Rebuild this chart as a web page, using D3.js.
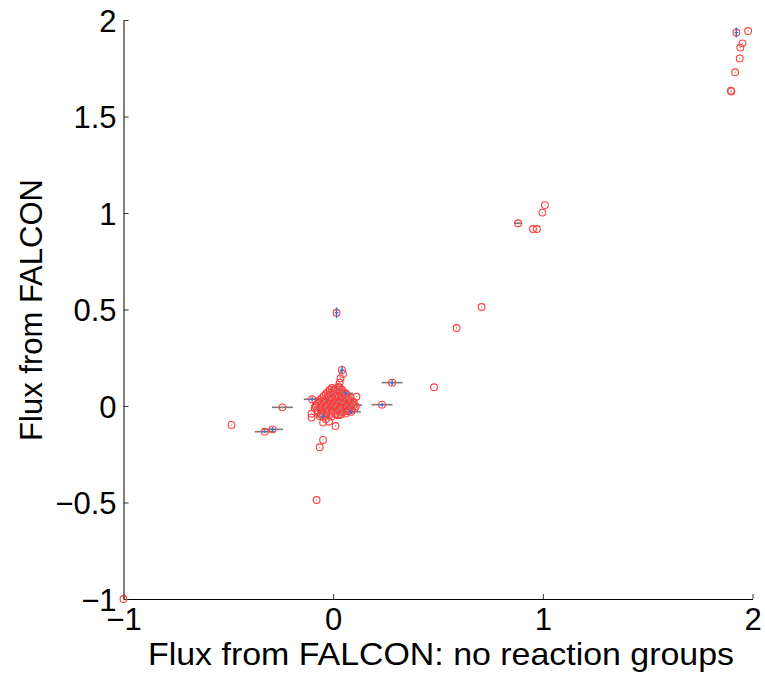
<!DOCTYPE html>
<html><head><meta charset="utf-8">
<script src="https://cdn.jsdelivr.net/npm/d3@7"></script>
<style>
html,body{margin:0;padding:0;background:#fff;}
text{font-family:"Liberation Sans",Arial,Helvetica,sans-serif;fill:#000;}
</style></head>
<body><svg id="chart" width="765" height="673"></svg>
<script>
// ---- data (x: flux without reaction groups, y: flux with FALCON) ----
const xTicks = [-1, 0, 1, 2];
const yTicks = [-1, -0.5, 0, 0.5, 1, 1.5, 2];
const xLabel = "Flux from FALCON: no reaction groups";
const yLabel = "Flux from FALCON";

// scattered points [x, y]
const pointsX = [
  -1.000, -0.485, -0.326, -0.289, -0.242, -0.079, -0.064, -0.048, 0.016,
  0.233, 0.281, 0.481, 0.589, 0.708,
  0.882, 0.953, 0.972, 0.998, 1.010,
  1.897, 1.899, 1.917, 1.923, 1.939, 1.942, 1.952, 1.979,
  0.023, 0.031, 0.035, 0.047, 0.042, 0.060, 0.111, 0.098, 0.087, -0.048,
  -0.103, -0.103, -0.048, 0.011, -0.020, -0.035, -0.100, -0.040
];
const pointsY = [
  -1.000, -0.098, -0.133, -0.121, -0.007, -0.487, -0.214, -0.176, 0.483,
  0.007, 0.121, 0.097, 0.404, 0.513,
  0.947, 0.917, 0.917, 1.002, 1.041,
  1.634, 1.630, 1.729, 1.935, 1.801, 1.857, 1.879, 1.943,
  0.100, 0.121, 0.143, 0.166, 0.187, 0.066, 0.048, 0.005, -0.030, -0.055,
  -0.040, -0.060, -0.086, -0.104, -0.080, -0.068, 0.035, 0.026
];
// dense central cluster
const clusterX = [
  -0.007, 0.012, 0.031, 0.004,
  -0.026, -0.002, 0.022, 0.046, 0.010,
  -0.045, -0.021, 0.003, 0.027, 0.051, 0.070, 0.038,
  -0.064, -0.040, -0.016, 0.008, 0.031, 0.055, 0.079, 0.018,
  -0.078, -0.054, -0.031, -0.007, 0.017, 0.041, 0.065, 0.089, 0.004,
  -0.088, -0.064, -0.040, -0.016, 0.008, 0.031, 0.055, 0.079, 0.103, -0.028,
  -0.073, -0.050, -0.026, -0.002, 0.022, 0.046, 0.070, 0.012,
  -0.064, -0.035, -0.007, 0.022, -0.052, 0.035,
  -0.084, 0.095, 0.062, -0.012, 0.044,
  -0.016, 0.003, 0.022, 0.041,
  -0.035, -0.011, 0.012, 0.036, 0.060,
  -0.054, -0.031, -0.007, 0.017, 0.041, 0.065, 0.084,
  -0.069, -0.045, -0.021, 0.003, 0.027, 0.051, 0.074, 0.098,
  -0.083, -0.059, -0.035, -0.011, 0.012, 0.036, 0.060, 0.084, 0.108,
  -0.078, -0.054, -0.031, -0.007, 0.017, 0.041, 0.065, 0.089,
  -0.059, -0.035, -0.011, 0.012, 0.036, 0.060
];
const clusterY = [
  0.093, 0.088, 0.096, 0.078,
  0.073, 0.070, 0.075, 0.071, 0.061,
  0.052, 0.055, 0.049, 0.053, 0.050, 0.046, 0.040,
  0.031, 0.028, 0.033, 0.030, 0.026, 0.032, 0.029, 0.020,
  0.010, 0.012, 0.008, 0.011, 0.009, 0.013, 0.007, 0.010, -0.002,
  -0.010, -0.012, -0.008, -0.011, -0.009, -0.013, -0.007, -0.012, -0.010, -0.020,
  -0.031, -0.029, -0.033, -0.030, -0.028, -0.032, -0.027, -0.042,
  -0.052, -0.050, -0.055, -0.048, -0.040, -0.045,
  0.000, 0.020, -0.020, 0.040, 0.018,
  0.083, 0.085, 0.082, 0.084,
  0.062, 0.063, 0.061, 0.064, 0.060,
  0.041, 0.042, 0.040, 0.043, 0.041, 0.039, 0.042,
  0.021, 0.022, 0.020, 0.021, 0.023, 0.019, 0.021, 0.020,
  0.000, 0.001, -0.001, 0.000, 0.002, -0.002, 0.001, 0.000, -0.001,
  -0.021, -0.020, -0.022, -0.021, -0.019, -0.021, -0.023, -0.020,
  -0.041, -0.042, -0.040, -0.041, -0.043, -0.039
];
// horizontal (gray) error bars: centre x, y, half-width
const hErrX = [-0.326, -0.289, -0.242, 0.233, 0.281, 0.882, 0.098, 0.087, 0.060, -0.100, -0.048];
const hErrY = [-0.133, -0.121, -0.007, 0.007, 0.121, 0.947, 0.005, -0.030, 0.066, 0.035, -0.055];
const hErrE = [0.048, 0.050, 0.050, 0.050, 0.050, 0.020, 0.040, 0.045, 0.035, 0.040, 0.028];
// vertical (blue) error bars: centre x, y, half-height
const vErrX = [0.016, 1.923, 0.042, -0.289, 0.281, 0.233, 0.060, 0.087, -0.048, -0.100, -0.326];
const vErrY = [0.483, 1.935, 0.187, -0.121, 0.121, 0.007, 0.066, -0.030, -0.055, 0.035, -0.133];
const vErrE = [0.028, 0.026, 0.022, 0.012, 0.014, 0.010, 0.012, 0.012, 0.012, 0.012, 0.006];

// ---- drawing ----
const svg = d3.select("#chart");
const x = d3.scaleLinear().domain([-1, 2]).range([123.5, 752.5]);
const y = d3.scaleLinear().domain([-1, 2]).range([599, 20]);
const fmt = v => (v < 0 ? "\u2212" : "") + Math.abs(v);

const gx = svg.append("g").attr("transform", `translate(0,${y(-1)})`)
  .call(d3.axisBottom(x).tickValues(xTicks).tickFormat(fmt).tickSizeInner(-5).tickSizeOuter(0).tickPadding(9));
const gy = svg.append("g").attr("transform", `translate(${x(-1)},0)`)
  .call(d3.axisLeft(y).tickValues(yTicks).tickFormat(fmt).tickSizeInner(-5).tickSizeOuter(0).tickPadding(7));
[gx, gy].forEach(g => {
  g.select(".domain").attr("stroke", "#000").attr("stroke-width", 1);
  g.selectAll(".tick line").attr("stroke", "#333");
  g.selectAll(".tick text").style("font-size", "31px").attr("fill", "#000");
});
gx.selectAll(".tick text").attr("dy", "0.72em");
gy.selectAll(".tick text").attr("dy", "0.36em");

svg.append("text").attr("x", 148).attr("y", 665)
  .attr("textLength", 586).attr("lengthAdjust", "spacingAndGlyphs")
  .style("font-size", "32px").text(xLabel);
svg.append("text").attr("transform", "translate(42,310) rotate(-90)").attr("text-anchor", "middle")
  .style("font-size", "31px").text(yLabel);

const plot = svg.append("g");
// gray horizontal error bars
plot.selectAll("line.h").data(hErrX).join("line").attr("class", "h")
  .attr("x1", (d, i) => x(d - hErrE[i])).attr("x2", (d, i) => x(d + hErrE[i]))
  .attr("y1", (d, i) => y(hErrY[i])).attr("y2", (d, i) => y(hErrY[i]))
  .attr("stroke", "#7a7a7a").attr("stroke-width", 1.6);

const allX = pointsX.concat(clusterX), allY = pointsY.concat(clusterY);
plot.selectAll("circle.p").data(allX).join("circle").attr("class", "p")
  .attr("cx", d => x(d)).attr("cy", (d, i) => y(allY[i])).attr("r", 3.4)
  .attr("fill", "none").attr("stroke", "#ff3c3c").attr("stroke-width", 1.1);
plot.selectAll("circle.c").data(allX).join("circle").attr("class", "c")
  .attr("cx", d => x(d)).attr("cy", (d, i) => y(allY[i])).attr("r", 0.7)
  .attr("fill", "#9a9a9a");

// blue vertical error bars, with a short blue centre tick
const vb = plot.selectAll("g.v").data(vErrX).join("g").attr("class", "v")
  .attr("stroke", "#3574d4").attr("stroke-width", 1.5);
vb.append("line").attr("x1", d => x(d)).attr("x2", d => x(d))
  .attr("y1", (d, i) => y(vErrY[i] - vErrE[i])).attr("y2", (d, i) => y(vErrY[i] + vErrE[i]));
vb.append("line").attr("x1", d => x(d) - 2).attr("x2", d => x(d) + 2)
  .attr("y1", (d, i) => y(vErrY[i])).attr("y2", (d, i) => y(vErrY[i]))
  .attr("stroke-width", 1.2);
</script></body></html>
